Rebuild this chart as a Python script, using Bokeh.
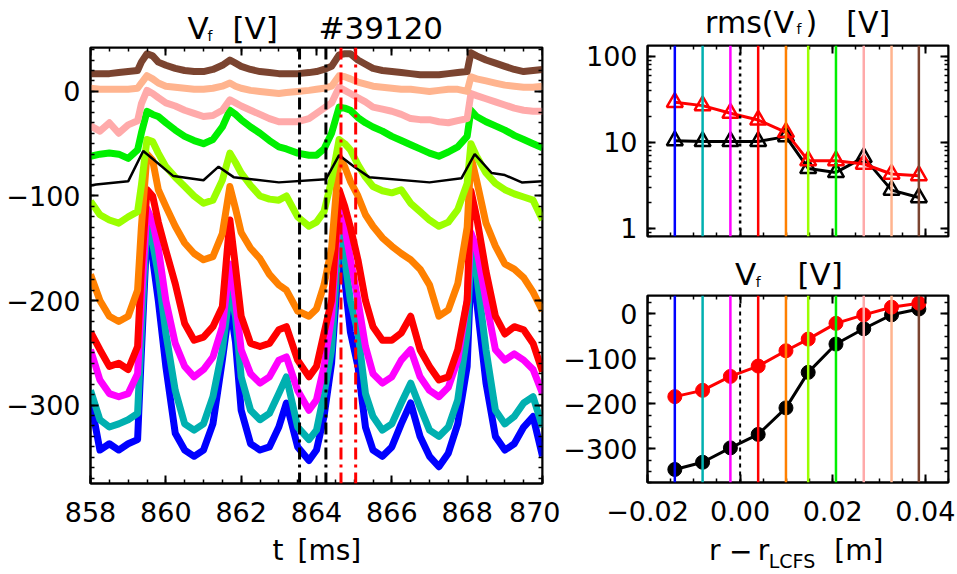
from bokeh.plotting import figure
from bokeh.models import (Range1d, LinearAxis, LogAxis, Span,
                          SingleIntervalTicker, LogTicker, CustomJSTickFormatter)
from bokeh.layouts import row, column
from bokeh.embed import file_html
from bokeh.resources import INLINE
from bokeh.core.properties import value

FONT = "DejaVu Sans"

# ---------------- data: left panel (time traces, V_f in V) ----------------
t_ms = [858.0, 858.25, 858.5, 858.75, 859.0, 859.25, 859.35, 859.5, 859.65, 859.8,
        860.0, 860.25, 860.5, 860.75, 861.0, 861.25, 861.5, 861.7, 861.85, 862.0,
        862.25, 862.5, 862.75, 863.0, 863.2, 863.5, 863.8, 864.0, 864.2, 864.4,
        864.6, 864.75, 864.9, 865.1, 865.3, 865.5, 865.75, 866.0, 866.25, 866.5,
        866.75, 867.0, 867.25, 867.5, 867.75, 868.0, 868.1, 868.25, 868.5, 868.75,
        869.0, 869.25, 869.5, 869.75, 870.0]

vf_blue = [-295, -343, -337, -343, -337, -333, -250, -132, -160, -200,
           -263, -327, -343, -349, -343, -318, -257, -203, -240, -305,
           -337, -343, -340, -321, -298, -340, -353, -343, -311, -260,
           -155, -180, -230, -263, -321, -343, -349, -340, -318, -298,
           -330, -349, -359, -346, -318, -263, -172, -200, -279, -330,
           -343, -337, -321, -311, -349]
vf_cyan = [-286, -314, -321, -318, -314, -308, -230, -122, -145, -175,
           -231, -286, -318, -324, -318, -292, -247, -190, -215, -273,
           -305, -314, -308, -289, -273, -321, -333, -324, -289, -247,
           -133, -160, -200, -231, -289, -311, -324, -318, -298, -279,
           -302, -324, -330, -321, -295, -231, -151, -175, -247, -305,
           -318, -311, -298, -292, -321]
vf_magenta = [-247, -276, -289, -292, -289, -270, -200, -112, -125, -150,
              -200, -241, -263, -273, -266, -254, -225, -165, -200, -247,
              -270, -279, -273, -257, -254, -286, -305, -295, -263, -215,
              -108, -130, -160, -200, -244, -270, -279, -273, -257, -247,
              -273, -286, -292, -283, -257, -200, -135, -150, -200, -247,
              -257, -251, -257, -266, -289]
vf_red = [-230, -247, -263, -260, -266, -244, -170, -94, -100, -125,
          -152, -184, -222, -238, -235, -225, -206, -123, -168, -215,
          -241, -244, -241, -228, -225, -257, -273, -263, -231, -200,
          -94, -110, -130, -161, -200, -225, -238, -238, -231, -215,
          -247, -263, -276, -273, -247, -200, -95, -120, -172, -215,
          -232, -225, -228, -241, -268]
vf_orange = [-175, -200, -215, -220, -215, -190, -130, -60, -66, -94,
             -110, -129, -145, -155, -161, -158, -136, -91, -112, -135,
             -150, -160, -175, -185, -190, -210, -215, -208, -185, -150,
             -62, -72, -86, -100, -118, -129, -140, -148, -155, -161,
             -170, -185, -215, -209, -184, -130, -62, -85, -126, -148,
             -165, -170, -178, -192, -210]
vf_yellowgreen = [-105, -118, -123, -126, -120, -115, -90, -46, -48, -59,
                  -72, -82, -91, -100, -107, -104, -85, -59, -68, -78,
                  -90, -100, -103, -104, -100, -120, -129, -125, -115, -85,
                  -46, -50, -56, -70, -82, -91, -95, -97, -94, -107,
                  -115, -123, -129, -125, -113, -88, -50, -62, -78, -88,
                  -94, -98, -101, -104, -123]
vf_green = [-62, -60, -59, -60, -64, -56, -40, -19, -22, -24,
            -30, -37, -43, -47, -50, -46, -34, -18, -22, -27,
            -34, -40, -47, -53, -55, -59, -61, -61, -55, -40,
            -15, -16, -18, -25, -30, -34, -38, -43, -47, -51,
            -55, -59, -62, -58, -53, -43, -18, -24, -29, -33,
            -37, -42, -46, -50, -54]
vf_pink = [-33, -38, -30, -40, -32, -28, -12, 1, -2, -6,
           -11, -14, -18, -21, -24, -23, -18, -8, -11, -14,
           -18, -22, -26, -29, -29, -29, -26, -21, -16, -11,
           4, 1, -2, -6, -10, -15, -17, -19, -22, -26,
           -27, -27, -29, -30, -28, -26, -2, -4, -7, -10,
           -13, -16, -18, -19, -19]
vf_peach = [3, 2, 2, 2, 2, 3, 8, 15, 12, 8,
            5, 4, 3, 2, 2, 3, 5, 8, 5, 3,
            1, 0, -1, -2, -1, 0, 1, 2, 3, 5,
            15, 14, 12, 9, 7, 5, 4, 3, 2, 2,
            1, 0, 1, 2, 2, 0, 14, 12, 10, 8,
            6, 5, 4, 4, 5]
vf_brown = [17, 17, 17, 18, 19, 20, 28, 36, 34, 28,
            25, 22, 20, 19, 19, 21, 25, 30, 27, 24,
            21, 19, 18, 17, 17, 17, 18, 19, 21, 24,
            35, 36, 36, 30, 26, 22, 20, 19, 18, 17,
            16, 16, 16, 17, 18, 19, 37, 34, 30, 27,
            24, 21, 19, 20, 21]

t_avg = [858.0, 858.15, 859.0, 859.4, 860.2, 861.0, 861.4, 861.8, 863.0, 864.25,
         864.6, 865.0, 865.4, 867.0, 867.85, 868.2, 868.65, 869.0, 869.45, 870.0]
vf_avg = [-90, -89, -86, -57, -81, -85, -72, -82, -87, -84,
          -61, -72, -82, -87, -83, -60, -78, -80, -87, -86]

black_marks_ms = [863.55, 864.25]
red_marks_ms = [864.65, 865.04]

# ---------------- data: right panels (radial profiles) ----------------
ch_colors = ["#0000ff", "#00b0b0", "#ff00ff", "#ff0000", "#ff8000",
             "#9bff00", "#00f000", "#ffaaaa", "#ffb48f", "#7b4430"]
r_pos = [-0.0141, -0.0081, -0.0021, 0.0039, 0.0099, 0.0147, 0.0207, 0.0267, 0.0327, 0.0386]
rms_black = [10.4, 10.2, 10.2, 10.2, 11.6, 4.95, 4.45, 6.65, 2.77, 2.27]
rms_red = [29.1, 26.6, 21.7, 18.1, 13.0, 6.09, 6.09, 5.57, 4.26, 4.07]
vf_prof_black = [-346, -330, -298, -268, -209, -130, -67, -33, -2, 11]
vf_prof_red = [-184, -170, -139, -116, -82, -56, -21, -2, 15, 24]
r_lcfs = 0.0

traces = [vf_blue, vf_cyan, vf_magenta, vf_red, vf_orange,
          vf_yellowgreen, vf_green, vf_pink, vf_peach, vf_brown]

T_RANGE = (858, 870)
V_RANGE = (-375, 42)
R_RANGE = (-0.02, 0.045)
RMS_RANGE = (0.8, 133)
VP_RANGE = (-375, 41)

MINUS_FMT = "return (tick < -1e-9 ? '\u2212' : '') + Math.abs(tick).toFixed(%d);"
EMPTY_FMT = "return '';"
TICK_PX = "27px"
TITLE_PX = 31
BASE_SHIFT = 0.27   # compensation of the text glyph baseline, in em


def style_axis(ax, labels=True):
    ax.axis_line_color = "black"
    ax.axis_line_width = 2
    ax.major_tick_line_color = "black"
    ax.major_tick_line_width = 2
    ax.minor_tick_line_color = "black"
    ax.minor_tick_line_width = 1.5
    ax.major_tick_in = 8
    ax.major_tick_out = 0
    ax.minor_tick_in = 4
    ax.minor_tick_out = 0
    ax.major_label_text_font = FONT
    ax.major_label_text_color = "black"
    ax.major_label_text_font_size = TICK_PX
    if not labels:
        ax.formatter = CustomJSTickFormatter(code=EMPTY_FMT)
        ax.major_label_standoff = 0


def base_fig(w, h, xr, yr, bl, br, bt, bb, **kw):
    p = figure(width=w, height=h, x_range=Range1d(*xr), y_range=Range1d(*yr),
               output_backend="svg", toolbar_location=None,
               min_border_left=bl, min_border_right=br,
               min_border_top=bt, min_border_bottom=bb,
               background_fill_color="white", border_fill_color="white",
               outline_line_color="black", outline_line_width=2, **kw)
    p.xgrid.visible = False
    p.ygrid.visible = False
    return p


def text_fig(w, h, bl, br, x0, y0):
    # a strip whose data coordinates equal page pixels (x0, y0 = its page corner)
    f = figure(width=w, height=h, x_range=Range1d(x0 + bl, x0 + w - br),
               y_range=Range1d(y0 + h, y0),
               output_backend="svg", toolbar_location=None,
               x_axis_location=None, y_axis_location=None,
               min_border_left=bl, min_border_right=br,
               min_border_top=0, min_border_bottom=0,
               outline_line_color=None, background_fill_color="white",
               border_fill_color="white")
    f.grid.visible = False
    return f


def put(f, px, py, text, size):
    # px, py: page position of the left end / baseline of the text
    f.text(x=[px], y=[py - BASE_SHIFT * size], text=[text], text_font=value(FONT),
           text_font_size=value(f"{size}px"), text_color="black",
           text_align="left", text_baseline="alphabetic")


# ---------------- left panel ----------------
p1 = base_fig(560, 484, T_RANGE, V_RANGE, 90, 18, 1, 47)
p1.xaxis[0].ticker = SingleIntervalTicker(interval=2, num_minor_ticks=4)
p1.yaxis[0].ticker = SingleIntervalTicker(interval=100, num_minor_ticks=10)
p1.yaxis[0].formatter = CustomJSTickFormatter(code=MINUS_FMT % 0)
style_axis(p1.xaxis[0])
style_axis(p1.yaxis[0])
p1.xaxis[0].major_label_standoff = 18
p1.yaxis[0].major_label_standoff = 10
ax_r = LinearAxis(ticker=SingleIntervalTicker(interval=100, num_minor_ticks=10),
                  fixed_location=T_RANGE[1])
style_axis(ax_r, labels=False)
p1.add_layout(ax_r, "right")
ax_t = LinearAxis(ticker=SingleIntervalTicker(interval=2, num_minor_ticks=4),
                  fixed_location=V_RANGE[1])
style_axis(ax_t, labels=False)
p1.add_layout(ax_t, "above")

for v, c in zip(traces, ch_colors):
    p1.line(t_ms, v, line_color=c, line_width=7, line_join="round")
for tm in black_marks_ms:
    p1.add_layout(Span(location=tm, dimension="height", line_color="black",
                       line_width=3, line_dash="12 5 3 5"))
for tm in red_marks_ms:
    p1.add_layout(Span(location=tm, dimension="height", line_color="#ff0000",
                       line_width=3, line_dash="12 5 3 5"))
p1.line(t_avg, vf_avg, line_color="black", line_width=2.5)

t1 = text_fig(560, 46, 90, 18, 0, 0)
put(t1, 187, 36, "V", TITLE_PX)
put(t1, 207, 39, "f", 14)
put(t1, 232, 36, "[V]", TITLE_PX)
put(t1, 318, 36, "#39120", TITLE_PX)

t1x = text_fig(560, 44, 90, 18, 0, 530)
put(t1x, 272, 558, "t", 28)
put(t1x, 297, 558, "[ms]", 28)

# ---------------- right top panel: rms ----------------
p2 = base_fig(397, 211, R_RANGE, RMS_RANGE, 85, 9, 6, 14, y_axis_type="log")
p2.xaxis[0].ticker = SingleIntervalTicker(interval=0.02, num_minor_ticks=4)
style_axis(p2.xaxis[0], labels=False)
p2.xaxis[0].fixed_location = RMS_RANGE[0]
p2.yaxis[0].ticker = LogTicker(num_minor_ticks=10)
p2.yaxis[0].formatter = CustomJSTickFormatter(code="return tick.toFixed(0);")
style_axis(p2.yaxis[0])
p2.yaxis[0].major_label_standoff = 10
ax2r = LogAxis(ticker=LogTicker(num_minor_ticks=10), fixed_location=R_RANGE[1])
style_axis(ax2r, labels=False)
p2.add_layout(ax2r, "right")
ax2t = LinearAxis(ticker=SingleIntervalTicker(interval=0.02, num_minor_ticks=4),
                  fixed_location=RMS_RANGE[1])
style_axis(ax2t, labels=False)
p2.add_layout(ax2t, "above")

for r, c in zip(r_pos, ch_colors):
    p2.add_layout(Span(location=r, dimension="height", line_color=c, line_width=2.5))
p2.add_layout(Span(location=r_lcfs, dimension="height", line_color="black",
                   line_width=2.5, line_dash="3 4"))
p2.line(r_pos, rms_black, line_color="black", line_width=3)
p2.scatter(r_pos, rms_black, marker="triangle", size=16, line_color="black",
           fill_color=None, line_width=2.5)
p2.line(r_pos, rms_red, line_color="#ff0000", line_width=3)
p2.scatter(r_pos, rms_red, marker="triangle", size=16, line_color="#ff0000",
           fill_color=None, line_width=2.5)

t2 = text_fig(397, 39, 85, 9, 560, 0)
put(t2, 703, 29.8, "rms(V", 30)
put(t2, 795, 32, "f", 14)
put(t2, 804, 29.8, ")", 30)
put(t2, 845, 29.8, "[V]", 30)

# ---------------- right bottom panel: V_f profile ----------------
p3 = base_fig(397, 238, R_RANGE, VP_RANGE, 85, 9, 3, 48)
p3.xaxis[0].ticker = SingleIntervalTicker(interval=0.02, num_minor_ticks=4)
p3.xaxis[0].formatter = CustomJSTickFormatter(code=MINUS_FMT % 2)
style_axis(p3.xaxis[0])
p3.xaxis[0].major_label_standoff = 18
p3.yaxis[0].ticker = SingleIntervalTicker(interval=100, num_minor_ticks=4)
p3.yaxis[0].formatter = CustomJSTickFormatter(code=MINUS_FMT % 0)
style_axis(p3.yaxis[0])
p3.yaxis[0].major_label_standoff = 10
ax3r = LinearAxis(ticker=SingleIntervalTicker(interval=100, num_minor_ticks=4),
                  fixed_location=R_RANGE[1])
style_axis(ax3r, labels=False)
p3.add_layout(ax3r, "right")
ax3t = LinearAxis(ticker=SingleIntervalTicker(interval=0.02, num_minor_ticks=4),
                  fixed_location=VP_RANGE[1])
style_axis(ax3t, labels=False)
p3.add_layout(ax3t, "above")

for r, c in zip(r_pos, ch_colors):
    p3.add_layout(Span(location=r, dimension="height", line_color=c, line_width=2.5))
p3.add_layout(Span(location=r_lcfs, dimension="height", line_color="black",
                   line_width=2, line_dash="4 4"))
p3.line(r_pos, vf_prof_black, line_color="black", line_width=3)
p3.scatter(r_pos, vf_prof_black, marker="circle", size=14, color="black")
p3.line(r_pos, vf_prof_red, line_color="#ff0000", line_width=3)
p3.scatter(r_pos, vf_prof_red, marker="circle", size=14, color="#ff0000")

t3 = text_fig(397, 42, 85, 9, 560, 250)
put(t3, 733, 282, "V", TITLE_PX)
put(t3, 754, 285, "f", 14)
put(t3, 796, 282, "[V]", TITLE_PX)

t3x = text_fig(397, 44, 85, 9, 560, 530)
put(t3x, 707, 558, "r", 28)
put(t3x, 727, 558, "\u2212", 28)
put(t3x, 756, 558, "r", 28)
put(t3x, 767, 566, "LCFS", 19)
put(t3x, 833, 558, "[m]", 28)

left_col = column(t1, p1, t1x, spacing=0)
right_col = column(t2, p2, t3, p3, t3x, spacing=0)
layout = row(left_col, right_col, spacing=0)
open("out.html", "w").write(file_html(layout, INLINE, "Vf #39120"))
